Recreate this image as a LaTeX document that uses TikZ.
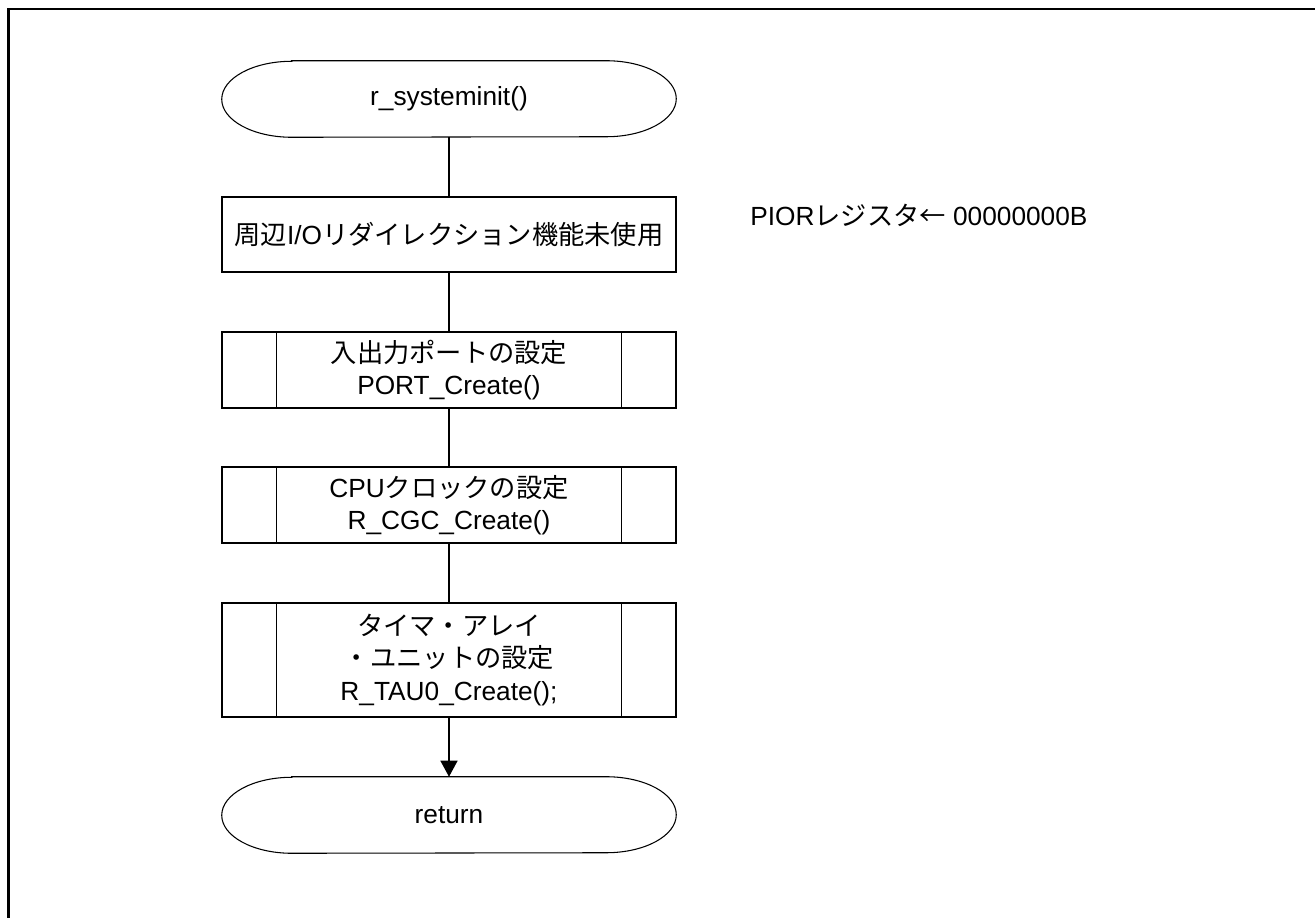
\documentclass[tikz,border=0pt]{standalone}
\usepackage{fontspec}
\setmainfont{Liberation Sans}
\newfontfamily\jp{Noto Sans CJK JP}
\usetikzlibrary{arrows.meta}
\newcommand\fsz{\fontsize{19.7}{24.4}\selectfont}
\tikzset{
  line/.style={draw=black, line width=1pt},
  tline/.style={draw=black, line width=0.8pt},
  frame/.style={draw=black, line width=1.8pt, line join=miter},
  term/.style={minimum width=340.5pt, minimum height=57pt, inner sep=0pt, font=\fsz},
  proc/.style={line, minimum width=340.5pt, minimum height=56.25pt, inner sep=0pt, align=center, font=\fsz},
  sub/.style={proc, minimum height=57pt},
  note/.style={anchor=west, inner sep=0pt, font=\fsz},
}

\begin{document}
\begin{tikzpicture}[x=0.75pt, y=0.75pt]
  \useasboundingbox (0,0) rectangle (1315,-918);
  \draw[frame] (8.5,-918) -- (8.5,-9) -- (1315,-9);
  % flow
  \node[term] (start) at (449,-99) {r\_systeminit()};
  \node[proc] (io) at (449,-234.5) {{\jp 周辺}I/O{\jp リダイレクション機能未使用}};
  \node[sub] (port) at (449,-370) {{\jp 入出力ポートの設定}\\PORT\_Create()};
  \node[sub] (cgc) at (449,-505) {CPU{\jp クロックの設定}\\R\_CGC\_Create()};
  \node[sub, minimum height=85.5pt] (tau) at (449,-660) {{\jp タイマ・アレイ}\\{\jp ・ユニットの設定}\\R\_TAU0\_Create();};
  \node[term] (ret) at (449,-815) {return};
  \node[note] (pior) at (750,-215) {PIOR{\jp レジスタ←} 00000000B};
  % terminal outlines
  \foreach \t in {start,ret}{
    \draw[tline] ([xshift=52.5pt]\t.north west) -- ([xshift=-52.5pt]\t.north east)
      arc[start angle=90, end angle=-90, x radius=52.5pt, y radius=28.5pt]
      -- ([xshift=52.5pt]\t.south west)
      arc[start angle=270, end angle=90, x radius=52.5pt, y radius=28.5pt] -- cycle;
  }
  % subroutine side bars
  \foreach \b in {port,cgc,tau}{
    \draw[line] ([xshift=41.25pt]\b.north west) -- ([xshift=41.25pt]\b.south west);
    \draw[line] ([xshift=-41.25pt]\b.north east) -- ([xshift=-41.25pt]\b.south east);
  }
  % connectors
  \draw[line] (start) -- (io);
  \draw[line] (io) -- (port);
  \draw[line] (port) -- (cgc);
  \draw[line] (cgc) -- (tau);
  \draw[line, -{Triangle[width=12.75pt, length=12pt]}] (tau) -- (ret);
\end{tikzpicture}
\end{document}
